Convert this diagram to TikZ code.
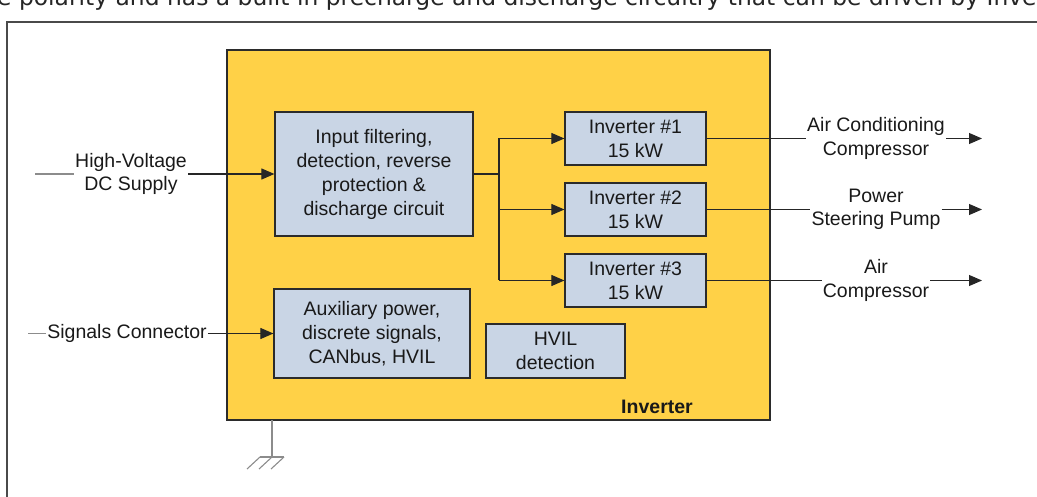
\documentclass[tikz,border=0pt]{standalone}
\usepackage{fontspec}
\setmainfont{Liberation Sans}
\newfontfamily\topfont{DejaVu Sans}
\usetikzlibrary{arrows.meta}
\definecolor{invfill}{HTML}{FFD147}
\definecolor{blkfill}{HTML}{C9D5E5}
\definecolor{edgecol}{HTML}{2B2B2B}
\definecolor{framecol}{HTML}{4A4A4A}
\begin{document}
\begin{tikzpicture}[x=1pt,y=-1pt,
  lbl/.style={font=\fontsize{19.5}{23.5}\selectfont, align=center, inner xsep=1pt, inner ysep=0pt, text=black!90},
  blockbox/.style={draw=edgecol, line width=1.2pt, fill=blkfill, inner sep=0pt, align=center,
    font=\fontsize{19.5}{24}\selectfont, text=black!90},
  wire/.style={draw=black!85, line width=1.1pt},
  stub/.style={draw=black!45, line width=1.1pt},
  arr/.style={wire, -{Triangle[length=13pt,width=11pt]}},
  gnd/.style={draw=black!45, line width=1.1pt}
]
\useasboundingbox (0,0) rectangle (1037,497);
% cut-off text of the page above
\begin{scope}
  \clip (0,0) rectangle (1037,21);
  \node[anchor=base west, inner sep=0pt, font=\topfont\fontsize{23.4}{26}\selectfont, text=black!85] (toptext) at (-3,5.5)
    {e polarity and has a built in precharge and discharge circuitry that can be driven by Inverter};
\end{scope}
% frame
\draw[framecol, line width=1.5pt] (7,497) -- (7,22) -- (1037,22);
% inverter enclosure
\node[draw=edgecol, fill=invfill, line width=1.3pt, minimum width=543pt, minimum height=370pt, inner sep=0pt] (inverter) at (498.5,235) {};
\node[font=\bfseries\fontsize{19.5}{23.5}\selectfont, inner sep=0pt, text=black!90] (invlabel) at (657,407) {Inverter};
% blocks
\node[blockbox, minimum width=198pt, minimum height=124pt] (inp) at (374,174)
  {Input filtering,\\detection, reverse\\protection \&\\discharge circuit};
\node[blockbox, minimum width=196pt, minimum height=89pt] (aux) at (372,333.5)
  {Auxiliary power,\\discrete signals,\\CANbus, HVIL};
\node[blockbox, minimum width=139pt, minimum height=54pt] (hvil) at (555.5,351)
  {HVIL\\detection};
\node[blockbox, minimum width=141pt, minimum height=53pt] (inv1) at (635.5,138.5) {Inverter \#1\\15 kW};
\node[blockbox, minimum width=141pt, minimum height=53pt] (inv2) at (635.5,209.5) {Inverter \#2\\15 kW};
\node[blockbox, minimum width=141pt, minimum height=53pt] (inv3) at (635.5,280.5) {Inverter \#3\\15 kW};
% inputs
\coordinate (hvstart) at (35,174);
\node[lbl] (hv) at (131,174) {High-Voltage\\DC Supply};
\draw[stub] (hvstart) -- (hv.west);
\draw[arr] (hv.east) -- (inp.west);
\coordinate (sigstart) at (28,333.5);
\node[lbl] (sig) at (127,333.5) {Signals Connector};
\draw[stub] (sigstart) -- (sig.west);
\draw[arr] (sig.east) -- (aux.west);
% branch
\coordinate (br) at (499,174);
\draw[wire] (inp.east) -- (br);
\draw[wire] (br |- inv1.west) -- (br |- inv3.west);
\draw[arr] (br |- inv1.west) -- (inv1.west);
\draw[arr] (br |- inv2.west) -- (inv2.west);
\draw[arr] (br |- inv3.west) -- (inv3.west);
% outputs
\node[lbl] (o1) at (876,138.5) {Air Conditioning\\Compressor};
\node[lbl] (o2) at (876,209.5) {Power\\Steering Pump};
\node[lbl] (o3) at (876,280.5) {Air\\Compressor};
\coordinate (e1) at (982,138.5);
\coordinate (e2) at (982,209.5);
\coordinate (e3) at (982,280.5);
\draw[wire] (inv1.east) -- (o1.west);
\draw[wire] (inv2.east) -- (o2.west);
\draw[wire] (inv3.east) -- (o3.west);
\draw[arr] (o1.east) -- (e1);
\draw[arr] (o2.east) -- (e2);
\draw[arr] (o3.east) -- (e3);
% ground
\coordinate (gtop) at (272,420);
\coordinate (gmid) at (272,457);
\draw[gnd] (gtop) -- (gmid);
\draw[gnd] (260,457) -- (284,457);
\draw[gnd] (260,457) -- (247,469);
\draw[gnd] (272,457) -- (259,469);
\draw[gnd] (284,457) -- (271,469);
\end{tikzpicture}
\end{document}
